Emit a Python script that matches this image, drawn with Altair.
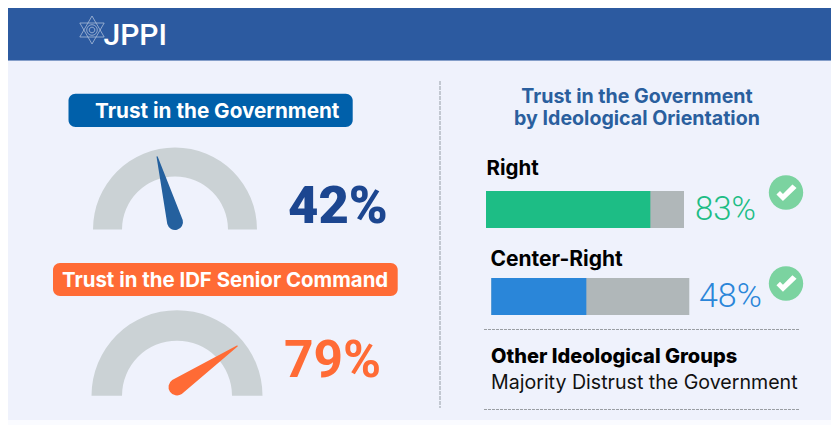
import math
import altair as alt
import pandas as pd

# ---- values ----
gauge_titles = ["Trust in the Government", "Trust in the IDF Senior Command"]
gauge_values = [42, 79]
needle_readings = [41.5, 81]          # where each needle points on a 0-100 half dial
group_names = ["Right", "Center-Right"]
group_values = [83, 48]
panel_title = ["Trust in the Government", "by Ideological Orientation"]
other_title = "Other Ideological Groups"
other_text = "Majority Distrust the Government"
logo_text = "JPPI"

# ---- page layout ----
W, H = 823, 417
OFF = 8
xs = alt.Scale(domain=[OFF, OFF + W], range=[0, W], nice=False, zero=False)
ys = alt.Scale(domain=[OFF, OFF + H], range=[0, H], nice=False, zero=False)
UI = "Inter"
NUM = "Roboto"


def X(f="x"):
    return alt.X(f"{f}:Q", scale=xs, axis=None)


def Y(f="y"):
    return alt.Y(f"{f}:Q", scale=ys, axis=None)


def box(x0, x1, y0, y1, color, radius=0):
    d = pd.DataFrame([{"x": x0, "x2": x1, "y": y0, "y2": y1}])
    return alt.Chart(d).mark_rect(color=color, cornerRadius=radius).encode(
        x=X(), x2="x2:Q", y=Y(), y2="y2:Q")


def label(s, x, y, size, weight, color, align="left", font=UI):
    d = pd.DataFrame([{"x": x, "y": y, "t": s}])
    return alt.Chart(d).mark_text(
        font=font, fontSize=size, fontWeight=weight, color=color, align=align, baseline="alphabetic"
    ).encode(x=X(), y=Y(), text="t:N")


def rule(x0, x1, y0, y1, color, width, dash):
    d = pd.DataFrame([{"x": x0, "x2": x1, "y": y0, "y2": y1}])
    return alt.Chart(d).mark_rule(color=color, strokeWidth=width, strokeDash=dash).encode(
        x=X(), x2="x2:Q", y=Y(), y2="y2:Q")


def gauge(cx, cy, r0, r1, hub, hub_w, length, reading, color):
    arc = pd.DataFrame([{"x": cx, "y": cy, "a": -math.pi / 2, "b": math.pi / 2}])
    dial = alt.Chart(arc).mark_arc(radius=r1, radius2=r0, color="#cbd2d5").encode(
        x=X(), y=Y(),
        theta=alt.Theta("a:Q", scale=None, stack=None),
        theta2="b:Q")
    ang = math.pi * reading / 100
    nd = pd.DataFrame([
        {"x": cx, "y": hub, "w": hub_w, "o": 0},
        {"x": cx - length * math.cos(ang), "y": hub - length * math.sin(ang), "w": 1.2, "o": 1},
    ])
    needle = alt.Chart(nd).mark_trail(color=color).encode(
        x=X(), y=Y(), size=alt.Size("w:Q", scale=None, legend=None), order="o:Q")
    return [dial, needle]


def symbol(x, y, path, size, **kw):
    d = pd.DataFrame([{"x": x, "y": y}])
    return alt.Chart(d).mark_point(shape=path, size=size, **kw).encode(x=X(), y=Y())


def bar(x0, y0, y1, value, color):
    length = 198
    return [
        box(x0, x0 + length, y0, y1, "#b0b7b9"),
        box(x0, x0 + length * value / 100, y0, y1, color),
    ]


CHECK = "M-0.85,0.05 L-0.3,0.6 L0.85,-0.5 L0.5,-0.8 L-0.3,0.0 L-0.55,-0.25 Z"
STAR = ("M0,-1 L0.87,0.5 L-0.87,0.5 Z M0,1 L0.87,-0.5 L-0.87,-0.5 Z "
        "M0.38,0 A0.38,0.38 0 1 1 -0.38,0 A0.38,0.38 0 1 1 0.38,0 Z "
        "M0.2,0 A0.2,0.2 0 1 1 -0.2,0 A0.2,0.2 0 1 1 0.2,0 Z")

layers = [
    box(5, 832.7, 7, 60.7, "#2c5aa0"),
    box(5, 832.7, 60.7, 420, "#eff2fc"),
    symbol(92, 30, STAR, 784, filled=False, color="#ffffff", opacity=0.6, strokeWidth=0.8),
    label(logo_text, 103.5, 45, 30, 500, "#ffffff", font="Roboto"),
    # left column
    box(68.5, 352.7, 93.7, 127, "#0060aa", 7),
    label(gauge_titles[0], 95, 117.7, 20.7, 700, "#ffffff"),
    *gauge(175, 229.5, 53, 82, 222, 16, 67.6, needle_readings[0], "#24609e"),
    label(f"{gauge_values[0]}%", 288, 222.7, 52.5, 900, "#1c4690", font=NUM),
    box(53, 397.7, 263, 296, "#ff6b35", 7),
    label(gauge_titles[1], 62, 286.7, 20.4, 700, "#ffffff"),
    *gauge(177, 395.7, 55, 85.5, 387, 17, 72.8, needle_readings[1], "#ff6b35"),
    label(f"{gauge_values[1]}%", 284, 376.7, 51.5, 700, "#ff6b35", font=NUM),
    # divider
    rule(440, 440, 81, 408, "#b4bac2", 1.5, [4, 1]),
    # right column
    label(panel_title[0], 637, 102.7, 19.6, 700, "#2a5f9e", "center"),
    label(panel_title[1], 637, 124.5, 19.6, 700, "#2a5f9e", "center"),
    label(group_names[0], 486.5, 174.7, 20.5, 700, "#000000"),
    *bar(486, 191, 228, group_values[0], "#1dbd85"),
    label(f"{group_values[0]}%", 695, 220, 33, 300, "#1dbd85", font=NUM),
    symbol(786, 192.5, "circle", 1183, filled=True, color="#7bd3a0", opacity=1),
    symbol(786.5, 194, CHECK, 560, filled=True, color="#ffffff", opacity=1),
    label(group_names[1], 490.5, 265.7, 21, 700, "#000000"),
    *bar(491.3, 278, 315, group_values[1], "#2a86d9"),
    label(f"{group_values[1]}%", 699, 306.7, 34, 300, "#2a86d9", font=NUM),
    symbol(786, 283.5, "circle", 1183, filled=True, color="#7bd3a0", opacity=1),
    symbol(786.5, 284.7, CHECK, 560, filled=True, color="#ffffff", opacity=1),
    rule(484, 800, 329.5, 329.5, "#9a9ea3", 1, [3, 1]),
    label(other_title, 491, 363.3, 20, 800, "#000000"),
    label(other_text, 491, 389, 19.6, 400, "#111111"),
    rule(484, 800, 409.5, 409.5, "#9a9ea3", 1, [3, 1]),
]

chart = alt.layer(*layers).properties(
    width=W, height=H, padding=0, background="#fafbff",
    autosize=alt.AutoSizeParams(type="none"),
).configure_view(stroke=None)

chart.save("out.html", embed_options={"renderer": "svg", "actions": False})
